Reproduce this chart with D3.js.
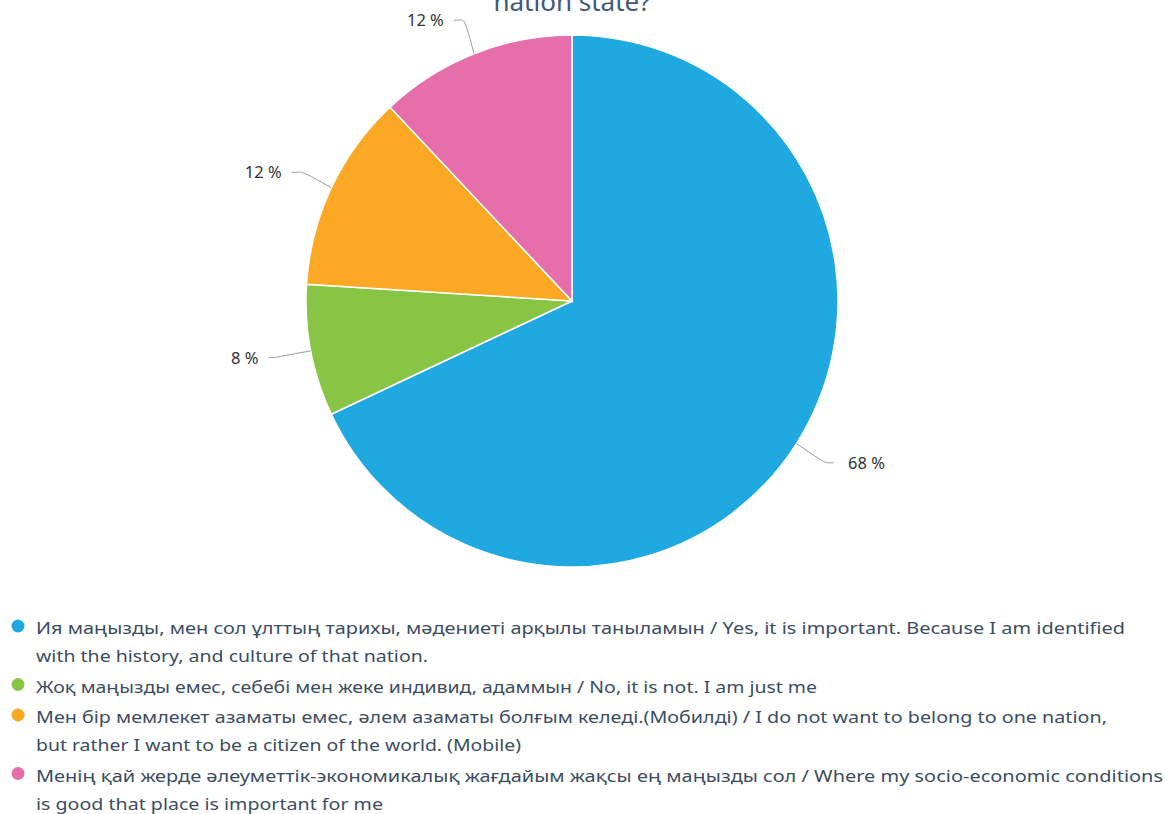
<!DOCTYPE html>
<html>
<head>
<meta charset="utf-8">
<script src="https://cdn.jsdelivr.net/npm/d3@7"></script>
<style>
  body { margin: 0; background: #fff; }
  svg { display: block; }
  text { font-family: "Noto Sans", "Open Sans", sans-serif; }
</style>
</head>
<body>
<svg id="chart" width="1167" height="814"></svg>
<script>
// answer shares (percent), in drawing order from 12 o'clock clockwise
const values = [68, 8, 12, 12];
const colors = ['#20a9e0', '#88c544', '#fba824', '#e56eab'];
const pieLabels = ['68 %', '8 %', '12 %', '12 %'];

// legend entries, already broken into the lines shown in the picture
const legendLines = [
    ['Ия маңызды, мен сол ұлттың тарихы, мәдениеті арқылы таныламын / Yes, it is important. Because I am identified',
     'with the history, and culture of that nation.'],
    ['Жоқ маңызды емес, себебі мен жеке индивид, адаммын / No, it is not. I am just me'],
    ['Мен бір мемлекет азаматы емес, әлем азаматы болғым келеді.(Мобилді) / I do not want to belong to one nation,',
     'but rather I want to be a citizen of the world. (Mobile)'],
    ['Менің қай жерде әлеуметтік-экономикалық жағдайым жақсы ең маңызды сол / Where my socio-economic conditions',
     'is good that place is important for me']
];
// measured widths of each legend line in the reference
const legendWidths = [[1089, 392], [781], [1071, 485], [1127, 347]];

const titleText = 'nation state?';

const svg = d3.select('#chart');
const cx = 572, cy = 301, radius = 266;

// title (only its last line sits inside the frame, as in the source)
svg.append('text')
    .attr('x', 572)
    .attr('y', 11)
    .attr('text-anchor', 'middle')
    .attr('fill', '#3e5a74')
    .style('font-size', '26px')
    .text(titleText);

const pie = d3.pie().sort(null).value(d => d);
const arcs = pie(values);
const arc = d3.arc().innerRadius(0).outerRadius(radius);

const g = svg.append('g').attr('transform', `translate(${cx},${cy})`);

g.selectAll('path.slice')
    .data(arcs)
    .enter()
    .append('path')
    .attr('class', 'slice')
    .attr('d', arc)
    .attr('fill', (d, i) => colors[i])
    .attr('stroke', '#fff')
    .attr('stroke-width', 1.5);

// data labels with connectors
const edgeArc = d3.arc().innerRadius(radius).outerRadius(radius);
const outArc = d3.arc().innerRadius(radius + 36).outerRadius(radius + 36);

arcs.forEach((d, i) => {
    const mid = (d.startAngle + d.endAngle) / 2;
    const right = Math.sin(mid) > 0;
    const p0 = edgeArc.centroid(d);
    const p1 = outArc.centroid(d);
    const p2 = [p1[0] + (right ? 7 : -7), p1[1]];

    const line = d3.line().curve(d3.curveBasis);
    g.append('path')
        .attr('d', line([p0, [p1[0] - (right ? 4 : -4), p1[1] - 1], p1, p2]))
        .attr('fill', 'none')
        .attr('stroke', '#999')
        .attr('stroke-width', 1);

    g.append('text')
        .attr('x', p2[0] + (right ? 14 : -10))
        .attr('y', p2[1] + 6)
        .attr('text-anchor', right ? 'start' : 'end')
        .attr('fill', '#333')
        .style('font-size', '16.5px')
        .text(pieLabels[i]);
});

// legend
const legend = svg.append('g');
let y = 628;
legendLines.forEach((lines, i) => {
    legend.append('circle')
        .attr('cx', 18)
        .attr('cy', y - 2)
        .attr('r', 6.5)
        .attr('fill', colors[i]);
    lines.forEach((ln, j) => {
        legend.append('text')
            .attr('x', 36)
            .attr('y', y + 6)
            .attr('fill', '#3c4d61')
            .style('font-size', '17px')
            .attr('textLength', legendWidths[i][j])
            .attr('lengthAdjust', 'spacingAndGlyphs')
            .text(ln);
        y += 28;
    });
    y += 2.5;
});
</script>
</body>
</html>
